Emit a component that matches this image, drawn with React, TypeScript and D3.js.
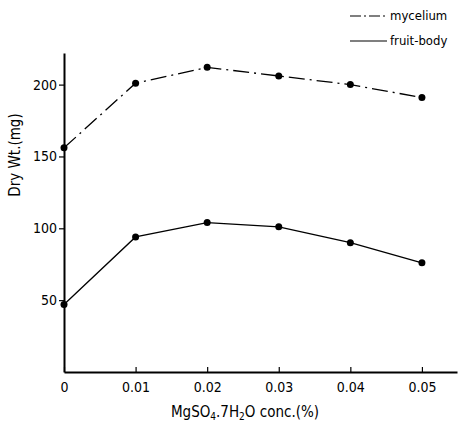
import * as d3 from "d3";
import { useRef, useEffect } from "react";

// MgSO4.7H2O concentration (%)
const conc = [0, 0.01, 0.02, 0.03, 0.04, 0.05];
const mycelium = [156, 201, 212, 206, 200, 191];
const fruitBody = [47, 94, 104, 101, 90, 76];
const xTicks = [0, 0.01, 0.02, 0.03, 0.04, 0.05];
const yTicks = [50, 100, 150, 200];

const FONT = "'DejaVu Sans Condensed', 'DejaVu Sans', sans-serif";

function App() {
  const width = 461;
  const height = 431;
  const svgRef = useRef<SVGSVGElement>(null);

  useEffect(() => {
    const svg = d3.select(svgRef.current);
    svg.selectAll("*").remove();

    const x = d3.scaleLinear().domain([0, 0.0549]).range([64, 457]);
    const y = d3.scaleLinear().domain([0, 222]).range([372, 53]);

    // axes
    const xAxis = d3
      .axisBottom(x)
      .tickValues(xTicks)
      .tickSize(-5)
      .tickSizeOuter(0)
      .tickPadding(10)
      .tickFormat((d) => (+d === 0 ? "0" : d3.format(".2f")(+d)));
    const gx = svg.append("g").attr("transform", `translate(0,${y(0)})`).call(xAxis);
    gx.select(".domain").attr("stroke-width", 2);
    gx.selectAll(".tick line").attr("stroke-width", 1.2);
    gx.selectAll("text")
      .style("font-family", FONT)
      .style("font-size", "14px")
      .style("font-weight", 500)
      .attr("fill", "#000");

    const yAxis = d3.axisLeft(y).tickValues(yTicks).tickSize(5).tickSizeOuter(0).tickPadding(2);
    const gy = svg.append("g").attr("transform", `translate(${x(0)},0)`).call(yAxis);
    gy.select(".domain").attr("stroke-width", 2);
    gy.selectAll(".tick line").attr("stroke-width", 1.2);
    gy.selectAll("text")
      .style("font-family", FONT)
      .style("font-size", "14px")
      .style("font-weight", 500)
      .attr("fill", "#000");

    const line = d3
      .line<number>()
      .x((_, i) => x(conc[i]))
      .y((d) => y(d));

    const series = [
      { name: "mycelium", values: mycelium, dash: "16,5,2,5" },
      { name: "fruit-body", values: fruitBody, dash: null },
    ];

    series.forEach((s) => {
      svg
        .append("path")
        .datum(s.values)
        .attr("d", line)
        .attr("fill", "none")
        .attr("stroke", "#000")
        .attr("stroke-width", 1.3)
        .attr("stroke-dasharray", s.dash);
      svg
        .append("g")
        .selectAll("circle")
        .data(s.values)
        .join("circle")
        .attr("cx", (_, i) => x(conc[i]))
        .attr("cy", (d) => y(d))
        .attr("r", 3.5)
        .attr("fill", "#000");
    });

    // legend
    const legend = svg.append("g").attr("transform", "translate(350,16)");
    series.forEach((s, i) => {
      legend
        .append("line")
        .attr("x1", 0)
        .attr("x2", 37)
        .attr("y1", i * 25)
        .attr("y2", i * 25)
        .attr("stroke", "#000")
        .attr("stroke-width", 1.2)
        .attr("stroke-dasharray", s.dash ? "11,3,2,3" : null);
      legend
        .append("text")
        .attr("x", 40)
        .attr("y", i * 25)
        .attr("dy", "0.3em")
        .style("font-family", FONT)
        .style("font-size", "13px")
        .style("font-weight", 500)
        .text(s.name);
    });

    // axis titles
    svg
      .append("text")
      .attr("transform", "translate(20,155) rotate(-90)")
      .attr("text-anchor", "middle")
      .style("font-family", FONT)
      .style("font-size", "15px")
      .text("Dry Wt.(mg)");

    const xt = svg
      .append("text")
      .attr("x", 245)
      .attr("y", 417)
      .attr("text-anchor", "middle")
      .style("font-family", FONT)
      .style("font-size", "15px");
    xt.append("tspan").text("MgSO");
    xt.append("tspan").attr("dy", 3).style("font-size", "10px").text("4");
    xt.append("tspan").attr("dy", -3).text(".7H");
    xt.append("tspan").attr("dy", 3).style("font-size", "10px").text("2");
    xt.append("tspan").attr("dy", -3).text("O  conc.(%)");
  }, []);

  return (
    <svg
      ref={svgRef}
      width={width}
      height={height}
      viewBox={`0 0 ${width} ${height}`}
      style={{ position: "absolute", left: 0, top: 0, background: "#fff" }}
    />
  );
}

export default App;
